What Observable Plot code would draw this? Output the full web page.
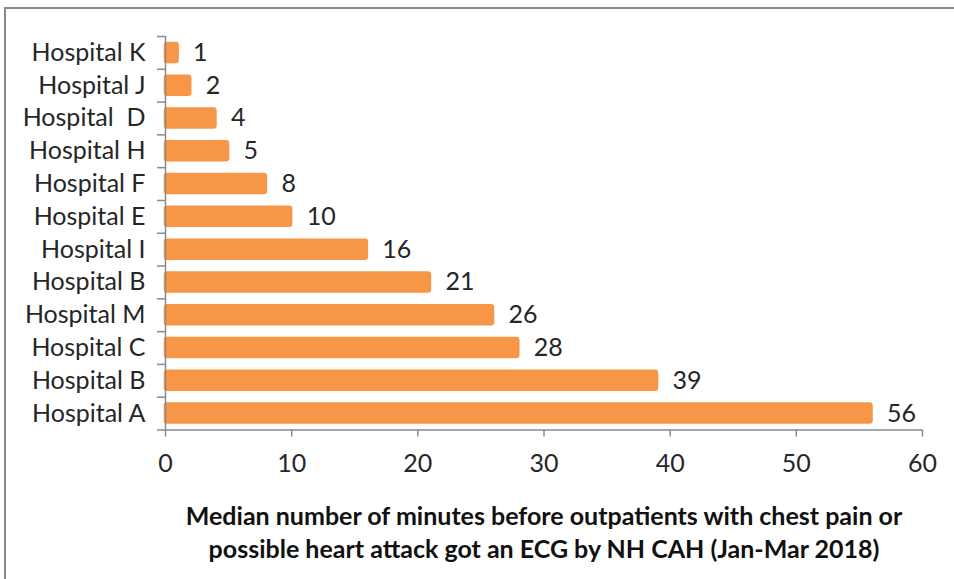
<!DOCTYPE html>
<html>
<head>
<meta charset="utf-8">
<script src="https://cdn.jsdelivr.net/npm/d3@7"></script>
<script src="https://cdn.jsdelivr.net/npm/@observablehq/plot@0.6"></script>
<style>
  html, body { margin: 0; padding: 0; background: #fff; overflow: hidden; }
  #wrap { position: relative; width: 954px; height: 579px; }
  #frame { position: absolute; left: 4px; top: 7px; right: -10px; bottom: -10px;
           border-top: 2.5px solid #8a8a8a; border-left: 2.5px solid #8a8a8a; pointer-events: none; }
  svg text { white-space: pre; }
</style>
</head>
<body>
<div id="wrap"><div id="frame"></div></div>
<script>
// Categories listed top to bottom, as in the chart
const categories = ["Hospital K", "Hospital J", "Hospital  D", "Hospital H", "Hospital F", "Hospital E",
                    "Hospital I", "Hospital B", "Hospital M", "Hospital C", "Hospital B", "Hospital A"];
const values = [1, 2, 4, 5, 8, 10, 16, 21, 26, 28, 39, 56];
const xTicks = [0, 10, 20, 30, 40, 50, 60];
const titleText = "Median number of minutes before outpatients with chest pain or\npossible heart attack got an ECG by NH CAH (Jan-Mar 2018)";

const rows = categories.map((name, i) => ({ i, name, value: values[i] }));
const n = categories.length;
const axisColor = "#8a8a8a";
const textColor = "#262626";
const font = "Lato, 'Open Sans', sans-serif";

const chart = Plot.plot({
  width: 954,
  height: 579,
  marginLeft: 165,
  marginRight: 32,
  marginTop: 36,
  marginBottom: 149.5,
  style: { fontFamily: font, color: textColor, background: "transparent" },
  x: { domain: [0, 60] },
  y: { domain: [0, n], reverse: true },
  marks: [
    Plot.rectX(rows, { x: "value", y1: d => d.i, y2: d => d.i + 1, insetTop: 6.9, insetBottom: 6.9,
                       fill: "#F79646", stroke: "#F79646", strokeWidth: 2.5, strokeLinejoin: "round", rx: 2 }),
    Plot.ruleX([0], { stroke: axisColor, strokeWidth: 1.5 }),
    Plot.ruleY([n], { stroke: axisColor, strokeWidth: 1.5 }),
    // category boundary tick marks
    Plot.axisY({ ticks: d3.range(n + 1), tickSize: 8, tickFormat: () => "", stroke: axisColor, strokeWidth: 1.5 }),
    // category labels at band centres
    Plot.axisY({ ticks: d3.range(n).map(i => i + 0.5), tickFormat: v => categories[Math.round(v - 0.5)],
                 tickSize: 0, tickPadding: 20, fontSize: 25, fill: textColor, label: null }),
    Plot.axisX({ ticks: xTicks, tickSize: 7, tickPadding: 17, fontSize: 25, fill: textColor,
                 stroke: axisColor, strokeWidth: 1.5, label: null }),
    Plot.text(rows, { x: "value", y: d => d.i + 0.5, text: d => String(d.value), textAnchor: "start",
                      dx: 15, fontSize: 25, fill: textColor }),
    Plot.text([titleText], { frameAnchor: "bottom", lineAnchor: "top", dy: 72, fontSize: 25,
                             fontWeight: "bold", lineHeight: 1.3, fill: "#111" })
  ]
});
document.getElementById("wrap").prepend(chart);
</script>
</body>
</html>
